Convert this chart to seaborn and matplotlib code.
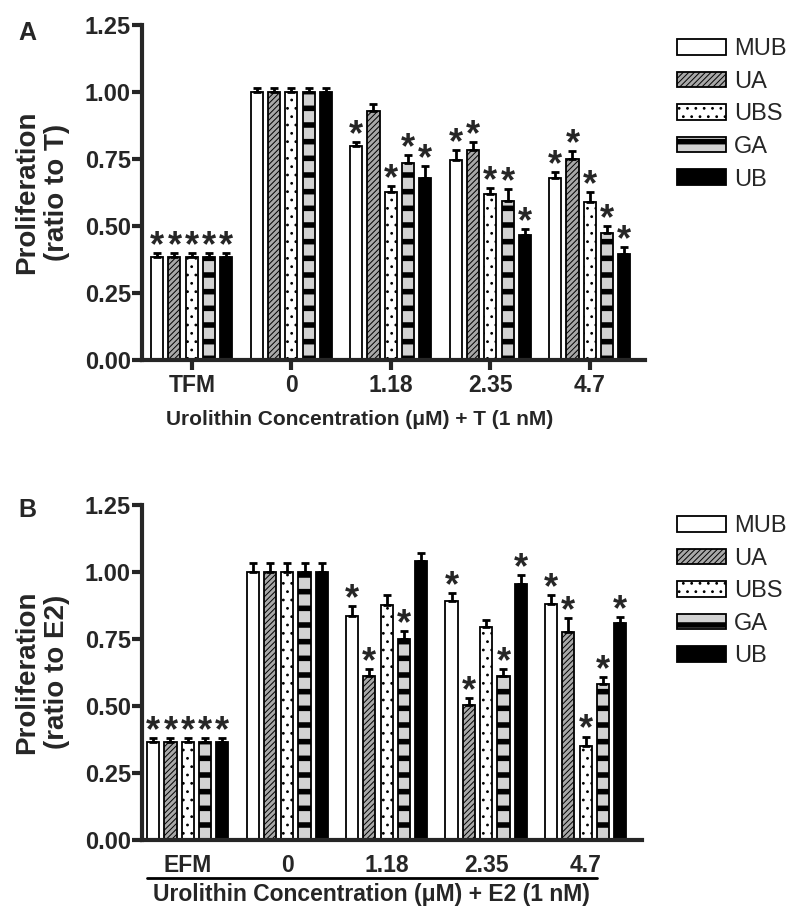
import numpy as np
import pandas as pd
import matplotlib
matplotlib.use('Agg')
import matplotlib.pyplot as plt
import seaborn as sns
from matplotlib.patches import Patch

# categories
compounds = ['MUB', 'UA', 'UBS', 'GA', 'UB']
groups_a = ['TFM', '0', '1.18', '2.35', '4.7']
groups_b = ['EFM', '0', '1.18', '2.35', '4.7']

# panel A: proliferation ratio to T (mean, SEM)
mub_a = [0.385, 1.00, 0.800, 0.745, 0.680]
ua_a = [0.385, 1.00, 0.930, 0.785, 0.750]
ubs_a = [0.385, 1.00, 0.625, 0.620, 0.590]
ga_a = [0.385, 1.00, 0.735, 0.595, 0.475]
ub_a = [0.385, 1.00, 0.680, 0.465, 0.395]
mub_a_sem = [0.014, 0.014, 0.012, 0.037, 0.020]
ua_a_sem = [0.014, 0.014, 0.025, 0.030, 0.030]
ubs_a_sem = [0.014, 0.014, 0.025, 0.022, 0.036]
ga_a_sem = [0.014, 0.014, 0.030, 0.043, 0.025]
ub_a_sem = [0.014, 0.014, 0.045, 0.025, 0.025]
# significance stars (1 = star)
mub_a_sig = [1, 0, 1, 1, 1]
ua_a_sig = [1, 0, 0, 1, 1]
ubs_a_sig = [1, 0, 1, 1, 1]
ga_a_sig = [1, 0, 1, 1, 1]
ub_a_sig = [1, 0, 1, 1, 1]

# panel B: proliferation ratio to E2 (mean, SEM)
mub_b = [0.367, 1.00, 0.835, 0.890, 0.880]
ua_b = [0.367, 1.00, 0.610, 0.505, 0.775]
ubs_b = [0.367, 1.00, 0.875, 0.795, 0.350]
ga_b = [0.367, 1.00, 0.750, 0.612, 0.582]
ub_b = [0.367, 1.00, 1.040, 0.957, 0.810]
mub_b_sem = [0.012, 0.033, 0.037, 0.031, 0.034]
ua_b_sem = [0.012, 0.033, 0.027, 0.024, 0.052]
ubs_b_sem = [0.012, 0.033, 0.040, 0.026, 0.036]
ga_b_sem = [0.012, 0.033, 0.029, 0.025, 0.025]
ub_b_sem = [0.012, 0.033, 0.031, 0.032, 0.022]
mub_b_sig = [1, 0, 1, 1, 1]
ua_b_sig = [1, 0, 1, 1, 1]
ubs_b_sig = [1, 0, 0, 0, 1]
ga_b_sig = [1, 0, 1, 1, 1]
ub_b_sig = [1, 0, 0, 1, 1]

yticks = [0.0, 0.25, 0.50, 0.75, 1.00, 1.25]

face = {'MUB': 'white', 'UA': '#a8a8a8', 'UBS': 'white', 'GA': '#d2d2d2', 'UB': 'black'}
hatches = {'MUB': '', 'UA': '//////', 'UBS': '..', 'GA': '-', 'UB': ''}
hatch_lw = {'MUB': 1.0, 'UA': 0.7, 'UBS': 0.8, 'GA': 4.0, 'UB': 1.0}


def long_table(groups, means, sems, sigs):
    rows = []
    for c, m, s, g in zip(compounds, means, sems, sigs):
        for grp, v, e, st in zip(groups, m, s, g):
            rows.append({'group': grp, 'compound': c, 'value': v, 'sem': e, 'sig': st})
    return pd.DataFrame(rows)


def set_hlw(patch, lw):
    if hasattr(patch, 'set_hatch_linewidth'):
        patch.set_hatch_linewidth(lw)
    else:
        patch._hatch_linewidth = lw


def draw_panel(ax, df, groups, xlim):
    sns.barplot(data=df, x='group', y='value', hue='compound', order=groups,
                hue_order=compounds, palette=face, width=0.87, gap=0.3,
                edgecolor='black', linewidth=1.3, errorbar=None, legend=False,
                ax=ax, zorder=2)
    for cont, c in zip(ax.containers, compounds):
        sub = df[df['compound'] == c].set_index('group')
        for bar in cont:
            bar.set_hatch(hatches[c])
            set_hlw(bar, hatch_lw[c])
            xc = bar.get_x() + bar.get_width() / 2
            grp = groups[int(round(xc))]
            top = bar.get_height()
            err = sub.loc[grp, 'sem']
            ax.errorbar(xc, top, yerr=[[0], [err]], fmt='none', ecolor='black',
                        elinewidth=2, capsize=3, capthick=2, zorder=3)
            if sub.loc[grp, 'sig']:
                ax.annotate('*', (xc, top + err), xytext=(0, -8),
                            textcoords='offset points', ha='center', va='bottom',
                            fontsize=26, fontweight='bold', zorder=4)
    ax.set_ylim(0, 1.25)
    ax.set_xlim(*xlim)
    ax.set_yticks(yticks)
    ax.set_yticklabels([f'{t:.2f}' for t in yticks], fontsize=17, fontweight='bold')
    ax.set_xticks(range(len(groups)))
    ax.set_xticklabels(groups, fontsize=16.5, fontweight='bold')
    for s in ['top', 'right']:
        ax.spines[s].set_visible(False)
    for s in ['left', 'bottom']:
        ax.spines[s].set_linewidth(3)
    ax.tick_params(axis='y', length=7, width=3, pad=1)
    ax.tick_params(axis='x', length=7, width=3, pad=3)
    ax.set_ylabel('')


sns.set_style('ticks')
plt.rcParams['font.family'] = ['Liberation Sans', 'DejaVu Sans']

fig = plt.figure(figsize=(8, 9.19), dpi=100)
ax_a = fig.add_axes([0.1775, 0.6083, 0.629, 0.3645])
ax_b = fig.add_axes([0.1775, 0.0860, 0.625, 0.3645])

df_a = long_table(groups_a, [mub_a, ua_a, ubs_a, ga_a, ub_a],
                  [mub_a_sem, ua_a_sem, ubs_a_sem, ga_a_sem, ub_a_sem],
                  [mub_a_sig, ua_a_sig, ubs_a_sig, ga_a_sig, ub_a_sig])
df_b = long_table(groups_b, [mub_b, ua_b, ubs_b, ga_b, ub_b],
                  [mub_b_sem, ua_b_sem, ubs_b_sem, ga_b_sem, ub_b_sem],
                  [mub_b_sig, ua_b_sig, ubs_b_sig, ga_b_sig, ub_b_sig])

draw_panel(ax_a, df_a, groups_a, (-0.50, 4.557))
draw_panel(ax_b, df_b, groups_b, (-0.46, 4.567))
ax_b.tick_params(axis='x', length=0, pad=10)

ax_a.set_xlabel('Urolithin Concentration (\u03bcM) + T (1 nM)', fontsize=15, fontweight='bold')
ax_a.xaxis.set_label_coords((360 - 142) / 503, (360 - 420) / 335)
ax_a.xaxis.label.set_va('center')
ax_b.set_xlabel('Urolithin Concentration (\u03bcM) + E2 (1 nM)', fontsize=16.5, fontweight='bold')
ax_b.xaxis.set_label_coords((371 - 142) / 500, (840 - 895) / 335)
ax_b.xaxis.label.set_va('center')

# underline between tick labels and axis title in panel B
ax_b.plot([0.01, 0.91], [-0.113, -0.113], transform=ax_b.transAxes, color='black',
          lw=2, clip_on=False)

fig.text(42 / 800, 1 - 192 / 919, 'Proliferation\n(ratio to T)', rotation=90,
         ha='center', va='center', fontsize=20, fontweight='bold', multialignment='center')
fig.text(42 / 800, 1 - 672 / 919, 'Proliferation\n(ratio to E2)', rotation=90,
         ha='center', va='center', fontsize=20, fontweight='bold', multialignment='center')
fig.text(27 / 800, 1 - 33 / 919, 'A', ha='center', va='center', fontsize=18, fontweight='bold')
fig.text(27 / 800, 1 - 510 / 919, 'B', ha='center', va='center', fontsize=18, fontweight='bold')

for ax, ytop in [(ax_a, 38), (ax_b, 515)]:
    handles = []
    for c in compounds:
        p = Patch(facecolor=face[c], edgecolor='black', hatch=hatches[c], linewidth=1.3, label=c)
        set_hlw(p, hatch_lw[c])
        handles.append(p)
    leg = fig.legend(handles=handles, loc='upper left',
                     bbox_to_anchor=(677 / 800, 1 - ytop / 919), frameon=False,
                     fontsize=17, handlelength=2.07, handleheight=0.64,
                     handletextpad=0.35, labelspacing=0.45, borderpad=0, borderaxespad=0)
    for h in leg.legend_handles:
        set_hlw(h, hatch_lw[h.get_label()] if h.get_label() in hatch_lw else 1.0)

fig.savefig('out.png', dpi=100)
